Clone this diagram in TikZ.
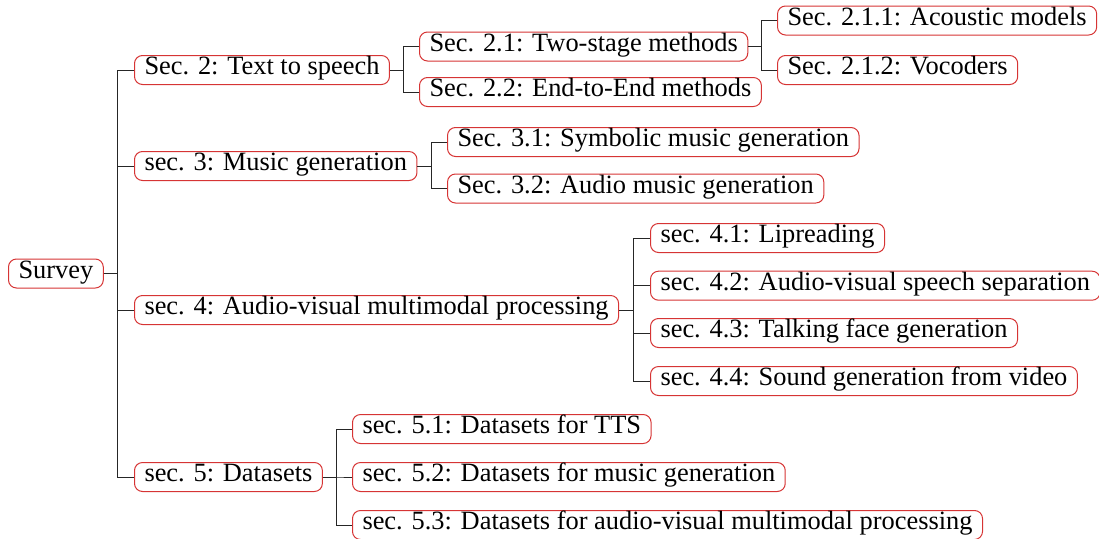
\documentclass[tikz,border=0pt]{standalone}
\usepackage{fontspec}
\setmainfont{Liberation Serif}
\definecolor{boxred}{RGB}{214,52,52}
\tikzset{
  sec/.style={draw=boxred, line width=1pt, rounded corners=8pt, anchor=west,
    inner xsep=10pt, inner ysep=0pt, text height=19pt, text depth=10pt,
    font=\fontsize{26.4pt}{30pt}\selectfont, text=black},
  link/.style={draw=black!85, line width=1pt},
}
\begin{document}
\begin{tikzpicture}[x=1pt,y=-1pt]
\useasboundingbox (0,0) rectangle (1099,538);
% root
\node[sec] (root) at (8,273.5) {Survey};
% level 1
\node[sec] (s2) at (134,70) {Sec. 2: Text to speech};
\node[sec] (s3) at (134,166) {sec. 3: Music generation};
\node[sec] (s4) at (134,310) {sec. 4: Audio-visual multimodal processing};
\node[sec] (s5) at (134,477) {sec. 5: Datasets};
% level 2
\node[sec] (s21) at (419,46.5) {Sec. 2.1: Two-stage methods};
\node[sec] (s22) at (419,92) {Sec. 2.2: End-to-End methods};
\node[sec] (s211) at (777,20.5) {Sec. 2.1.1: Acoustic models};
\node[sec] (s212) at (777,70) {Sec. 2.1.2: Vocoders};
\node[sec] (s31) at (447,142) {Sec. 3.1: Symbolic music generation};
\node[sec] (s32) at (447,188.5) {Sec. 3.2: Audio music generation};
\node[sec] (s41) at (650,238) {sec. 4.1: Lipreading};
\node[sec] (s42) at (650,285.7) {sec. 4.2: Audio-visual speech separation};
\node[sec] (s43) at (650,333) {sec. 4.3: Talking face generation};
\node[sec] (s44) at (650,381) {sec. 4.4: Sound generation from video};
\node[sec] (s51) at (352,429) {sec. 5.1: Datasets for TTS};
\node[sec] (s52) at (352,477) {sec. 5.2: Datasets for music generation};
\node[sec] (s53) at (352,525) {sec. 5.3: Datasets for audio-visual multimodal processing};
% connectors
\foreach \c in {s2,s3,s4,s5}
  \draw[link] (root.east) -| ([xshift=-16.5]\c.west) -- (\c.west);
\foreach \c in {s21,s22}
  \draw[link] (s2.east) -| ([xshift=-16]\c.west) -- (\c.west);
\foreach \c in {s211,s212}
  \draw[link] (s21.east) -| ([xshift=-15.5]\c.west) -- (\c.west);
\foreach \c in {s31,s32}
  \draw[link] (s3.east) -| ([xshift=-16]\c.west) -- (\c.west);
\foreach \c in {s41,s42,s43,s44}
  \draw[link] (s4.east) -| ([xshift=-16.5]\c.west) -- (\c.west);
\foreach \c in {s51,s52,s53}
  \draw[link] (s5.east) -| ([xshift=-16]\c.west) -- (\c.west);
\end{tikzpicture}
\end{document}
